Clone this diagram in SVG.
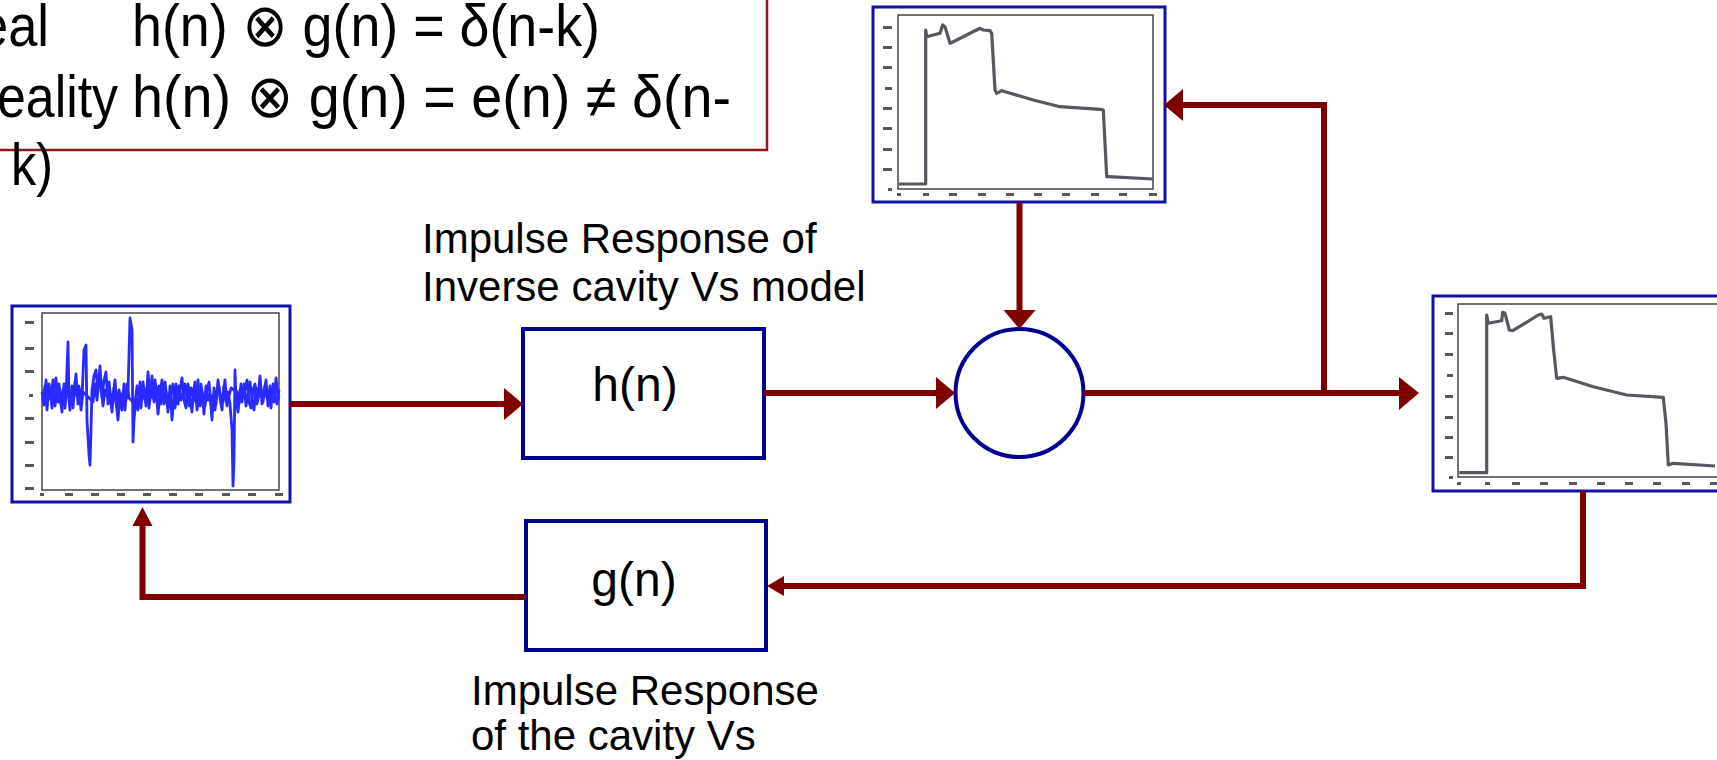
<svg xmlns="http://www.w3.org/2000/svg" width="1717" height="760" viewBox="0 0 1717 760">
<defs>
<style>
text{font-family:"Liberation Sans",Arial,"DejaVu Sans",sans-serif;fill:#000}
.eq{font-size:60px}
.lbl{font-size:42px}
.blk{font-size:48px}
.box{fill:#fff;stroke:#000090;stroke-width:4}
.plot{fill:#fff;stroke:#1010a8;stroke-width:3}
.axes{fill:none;stroke:#444;stroke-width:1.5}
.con{fill:none;stroke:#800000;stroke-width:6}
.head{fill:#800000}
.tl{fill:#222;opacity:.75}
.curve{fill:none;stroke:#5a5560;stroke-width:3.2;stroke-linejoin:round}
.noise{fill:none;stroke:#2a2aff;stroke-width:2.8;stroke-linejoin:round}
</style>
</defs>
<rect width="1717" height="760" fill="#fff"/>

<g id="equations">
<rect x="-10" y="-10" width="777" height="160" fill="#fff" stroke="#8b1a1a" stroke-width="2.5"/>
<text class="eq" x="-21" y="46" textLength="70" lengthAdjust="spacingAndGlyphs">eal</text>
<text class="eq" x="132" y="46" textLength="468" lengthAdjust="spacingAndGlyphs">h(n) ⊗ g(n) = δ(n-k)</text>
<text class="eq" x="-3" y="117" textLength="121" lengthAdjust="spacingAndGlyphs">eality</text>
<text class="eq" x="132" y="117" textLength="599" lengthAdjust="spacingAndGlyphs">h(n) ⊗ g(n) = e(n) ≠ δ(n-</text>
<text class="eq" x="11" y="185" textLength="42" lengthAdjust="spacingAndGlyphs">k)</text>
</g>

<g id="input-plot">
<rect class="plot" x="12" y="306" width="278" height="196"/>
<rect class="axes" x="42" y="313" width="237" height="177"/>
<g class="tl">
<rect x="25" y="321" width="9" height="3"/><rect x="25" y="347" width="9" height="3"/><rect x="25" y="370" width="9" height="3"/><rect x="29" y="394" width="4" height="3"/><rect x="25" y="417" width="9" height="3"/><rect x="25" y="441" width="9" height="3"/><rect x="25" y="464" width="9" height="3"/><rect x="25" y="487" width="9" height="3"/>
<rect x="40" y="493" width="4" height="3"/><rect x="65" y="493" width="8" height="3"/><rect x="91" y="493" width="8" height="3"/><rect x="117" y="493" width="8" height="3"/><rect x="143" y="493" width="8" height="3"/><rect x="169" y="493" width="8" height="3"/><rect x="195" y="493" width="8" height="3"/><rect x="222" y="493" width="8" height="3"/><rect x="248" y="493" width="8" height="3"/><rect x="275" y="493" width="8" height="3"/>
</g>
<polyline class="noise" points="43,400 45,386 47,410 49,384 51,398 53,380 55,406 57,392 59,384 61,404 63,390 65,408 67,386 71,398 73,408 75,382 77,396 79,386 81,410 83,392 93,402 95,384 97,400 99,378 101,384 103,406 105,390 107,396 109,382 111,400 113,396 115,380 117,408 119,390 121,400 123,392 125,410 127,384 129,398 135,404 137,386 139,396 141,408 143,382 145,398 147,388 149,408 151,390 153,398 155,380 157,396 159,386 161,404 163,390 165,382 167,400 169,404 171,394 173,384 175,408 177,392 179,386 181,400 183,394 185,384 187,398 189,406 191,388 193,396 195,382 197,410 199,394 201,384 203,398 205,406 207,390 209,382 211,404 213,396 215,410 217,392 219,386 221,402 223,394 225,380 227,406 229,396 231,388 237,392 239,404 241,384 243,396 245,390 247,380 249,402 251,408 253,390 255,384 257,404 259,394 261,388 263,402 265,386 267,398 269,392 271,408 273,384 275,394 277,404 279,396"/>
<polyline class="noise" points="42,392 44,405 46,380 48,400 50,388 52,408 54,394 56,378 58,402 60,396 62,412 64,384 66,398 68,342 69,400 70,410 72,386 74,396 76,374 78,404 80,390 82,398 84,350 86,345 87,420 89,455 90,465 91,430 92,390 94,376 96,370 98,392 100,366 102,398 104,380 106,372 108,404 110,394 112,412 114,388 116,402 118,420 120,396 122,410 124,384 126,400 128,392 130,318 132,330 133,442 134,420 136,398 138,410 140,382 142,400 144,390 146,406 148,372 150,398 152,376 154,402 156,388 158,414 160,394 162,380 164,404 166,392 168,412 170,386 172,420 174,396 176,384 178,404 180,390 182,378 184,400 186,408 188,384 190,398 192,412 194,388 196,402 198,380 200,406 202,392 204,414 206,386 208,400 210,394 212,420 214,388 216,404 218,380 220,398 222,410 224,386 226,402 228,392 230,404 232,430 233,486 234,460 235,370 236,400 238,412 240,390 242,402 244,384 246,406 248,394 250,382 252,400 254,410 256,388 258,398 260,376 262,404 264,392 266,380 268,406 270,386 272,398 274,402 276,378 278,396 279,390"/>
</g>

<g id="top-plot">
<rect class="plot" x="873" y="7" width="292" height="195"/>
<rect class="axes" x="898" y="15" width="255" height="174"/>
<g class="tl">
<rect x="883" y="26" width="9" height="3"/><rect x="883" y="46" width="9" height="3"/><rect x="883" y="66" width="9" height="3"/><rect x="885" y="87" width="7" height="3"/><rect x="883" y="107" width="9" height="3"/><rect x="883" y="127" width="9" height="3"/><rect x="883" y="148" width="9" height="3"/><rect x="883" y="168" width="9" height="3"/><rect x="888" y="188" width="4" height="3"/>
<rect x="897" y="193" width="4" height="3"/><rect x="923" y="193" width="6" height="3"/><rect x="949" y="193" width="8" height="3"/><rect x="978" y="193" width="8" height="3"/><rect x="1006" y="193" width="8" height="3"/><rect x="1034" y="193" width="8" height="3"/><rect x="1062" y="193" width="8" height="3"/><rect x="1091" y="193" width="8" height="3"/><rect x="1119" y="193" width="8" height="3"/><rect x="1149" y="193" width="8" height="3"/>
</g>
<polyline class="curve" points="899,184 925.7,184 925.7,30 926.7,36.7 940,33.3 942.7,25 945,26.7 950,43.3 953.3,41.7 980,28.3 983.3,30 990,30.7 991.7,33.3 995,90 996.7,93.3 1001.7,90.7 1033.3,100 1060,106.7 1100,109.3 1103.3,110 1106.7,176.7 1108.3,176.7 1153,179"/>
</g>

<g id="output-plot">
<rect class="plot" x="1433" y="296" width="300" height="195"/>
<rect class="axes" x="1458" y="304" width="270" height="173"/>
<g class="tl">
<rect x="1445" y="312" width="8" height="3"/><rect x="1445" y="332" width="8" height="3"/><rect x="1445" y="353" width="8" height="3"/><rect x="1447" y="374" width="6" height="3"/><rect x="1445" y="395" width="8" height="3"/><rect x="1445" y="416" width="8" height="3"/><rect x="1445" y="436" width="8" height="3"/><rect x="1445" y="456" width="8" height="3"/><rect x="1449" y="476" width="4" height="3"/>
<rect x="1457" y="482" width="4" height="3"/><rect x="1485" y="482" width="5" height="3"/><rect x="1512" y="482" width="8" height="3"/><rect x="1540" y="482" width="8" height="3"/><rect x="1569" y="482" width="8" height="3"/><rect x="1597" y="482" width="8" height="3"/><rect x="1625" y="482" width="8" height="3"/><rect x="1653" y="482" width="8" height="3"/><rect x="1682" y="482" width="8" height="3"/><rect x="1710" y="482" width="8" height="3"/>
</g>
<polyline class="curve" points="1459.3,472.7 1486.7,472.7 1486.7,315 1488.3,323.3 1501.7,320.7 1502.7,312.3 1505,313.3 1509.3,330 1512.7,330.7 1538.3,315 1541.7,314 1544,318.3 1550.7,316.7 1553.3,346.7 1556.7,378.3 1563.3,377.3 1593.3,386.7 1626.7,395 1663.3,397.3 1666,423.3 1668.3,465 1673.3,463.3 1715,466"/>
</g>

<g id="h-block">
<rect class="box" x="523" y="329" width="241" height="129"/>
<text class="blk" x="635" y="401" text-anchor="middle">h(n)</text>
</g>

<g id="g-block">
<rect class="box" x="526" y="521" width="240" height="129"/>
<text class="blk" x="634" y="596" text-anchor="middle">g(n)</text>
</g>

<g id="summing-node">
<circle cx="1019.5" cy="393" r="64" fill="#fff" stroke="#000090" stroke-width="4"/>
</g>

<g id="labels">
<text class="lbl" x="422" y="253">Impulse Response of</text>
<text class="lbl" x="422" y="301">Inverse cavity Vs model</text>
<text class="lbl" x="471" y="705">Impulse Response</text>
<text class="lbl" x="471" y="750">of the cavity Vs</text>
</g>

<g id="connectors">
<path class="con" d="M290 404 H505"/>
<polygon class="head" points="523,404 504,388 504,420"/>
<path class="con" d="M764 393 H937"/>
<polygon class="head" points="955,393 936,377 936,409"/>
<path class="con" d="M1084 393 H1400"/>
<polygon class="head" points="1419,393 1399,377 1399,410"/>
<path class="con" d="M1324 393 V105 H1182"/>
<polygon class="head" points="1164,105 1183,89 1183,121"/>
<path class="con" d="M1019.5 202 V311"/>
<polygon class="head" points="1019.5,329 1003.5,310 1035.5,310"/>
<path class="con" d="M1583 491 V586 H782"/>
<polygon class="head" points="767,586 784,576 784,596"/>
<path class="con" d="M526 597 H142.5 V524"/>
<polygon class="head" points="142.5,507 132.5,526 152.5,526"/>
</g>
</svg>
